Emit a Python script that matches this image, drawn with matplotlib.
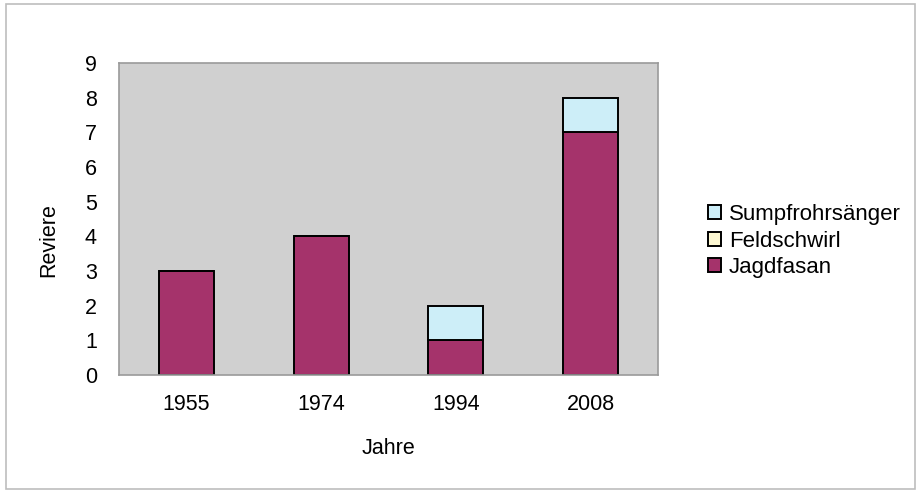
import matplotlib.pyplot as plt
import numpy as np
from matplotlib.patches import Rectangle

plt.rcParams['font.family'] = ['Liberation Sans', 'DejaVu Sans']

# Data
years = ['1955', '1974', '1994', '2008']
jagdfasan = [3, 4, 1, 7]
feldschwirl = [0, 0, 0, 0]
sumpfrohrsaenger = [0, 0, 1, 1]

c_jagd = '#a5336b'
c_feld = '#fdf8d2'
c_sumpf = '#cdeef8'

fig = plt.figure(figsize=(9.22, 4.93), dpi=100)
# outer frame of the chart
fig.patches.append(Rectangle((6 / 922, 4 / 493), 909 / 922, 485 / 493, transform=fig.transFigure,
                             fill=False, edgecolor='#bdbdbd', linewidth=1.2))

ax = fig.add_axes([119 / 922, 118 / 493, 539 / 922, 312 / 493])
ax.set_facecolor('#d0d0d0')

x = np.arange(len(years))
w = 0.41
bottom = np.zeros(len(years))
ax.bar(x, jagdfasan, w, bottom=bottom, color=c_jagd, edgecolor='black', linewidth=1.4, label='Jagdfasan')
bottom += jagdfasan
ax.bar(x, feldschwirl, w, bottom=bottom, color=c_feld, edgecolor='black', linewidth=1.4, label='Feldschwirl')
bottom += feldschwirl
ax.bar(x, sumpfrohrsaenger, w, bottom=bottom, color=c_sumpf, edgecolor='black', linewidth=1.4,
       label='Sumpfrohrsänger')

ax.set_xlim(-0.5, len(years) - 0.5)
ax.set_ylim(0, 9)
ax.set_yticks(range(10))
ax.set_xticks(x)
ax.set_xticklabels(years)
ax.tick_params(length=0, labelsize=15.5, pad=14)
ax.tick_params(axis='y', pad=16)
for s in ax.spines.values():
    s.set_color('#9a9a9a')
    s.set_linewidth(1.2)

ax.set_xlabel('Jahre', fontsize=15.5, labelpad=16)
ax.set_ylabel('Reviere', fontsize=15.5)
ax.yaxis.set_label_coords(-0.11, 0.433)

handles, labels = ax.get_legend_handles_labels()
fig.legend(handles[::-1], labels[::-1], loc='upper left', bbox_to_anchor=(688 / 922, 1 - 184 / 493),
           frameon=False, fontsize=16, handlelength=0.6, handleheight=0.6, handletextpad=0.35,
           labelspacing=0.25)

fig.savefig('out.png', dpi=100)
